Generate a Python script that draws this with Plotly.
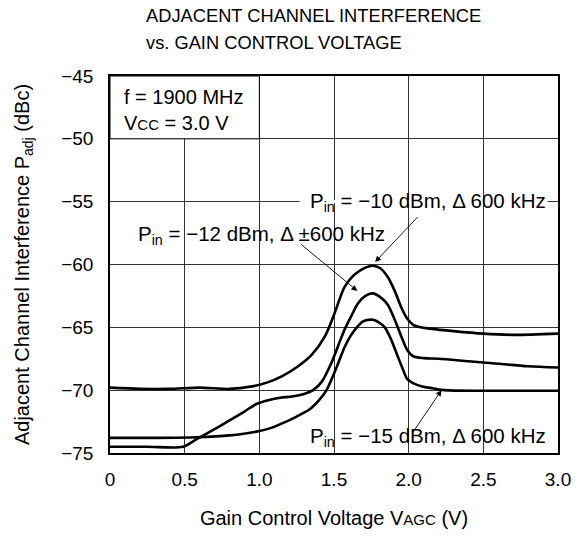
import plotly.graph_objects as go

# ACI vs AGC voltage
v_10 = [0, 0.2, 0.4, 0.6, 0.8, 0.95, 1.05, 1.15, 1.26, 1.35, 1.44, 1.5, 1.57, 1.62, 1.66, 1.71,
        1.76, 1.81, 1.86, 1.91, 1.95, 1.99, 2.03, 2.08, 2.14, 2.3, 2.5, 2.7, 3.0]
aci_10 = [-69.8, -69.9, -69.9, -69.8, -69.9, -69.7, -69.4, -68.9, -68.1, -67.2, -65.7, -64.0, -61.8,
          -61.0, -60.6, -60.25, -60.1, -60.3, -61.0, -62.2, -63.4, -64.3, -64.8, -65.0, -65.1,
          -65.3, -65.5, -65.6, -65.5]

v_12 = [0, 0.25, 0.49, 0.58, 0.7, 0.8, 0.9, 0.98, 1.06, 1.14, 1.22, 1.3, 1.36, 1.42, 1.48, 1.53,
        1.57, 1.62, 1.66, 1.71, 1.76, 1.81, 1.86, 1.91, 1.95, 1.99, 2.03, 2.1, 2.2, 2.4, 2.6, 2.8, 3.0]
aci_12 = [-74.5, -74.5, -74.5, -73.9, -73.1, -72.4, -71.7, -71.1, -70.8, -70.6, -70.5, -70.3,
          -70.0, -69.3, -67.9, -66.4, -65.2, -64.0, -63.1, -62.5, -62.3, -62.6, -63.2, -64.5,
          -65.7, -66.8, -67.3, -67.45, -67.5, -67.7, -67.9, -68.1, -68.2]

v_15 = [0, 0.3, 0.58, 0.8, 0.98, 1.08, 1.16, 1.25, 1.34, 1.4, 1.45, 1.52, 1.57, 1.61, 1.66, 1.70,
        1.76, 1.80, 1.84, 1.88, 1.92, 1.96, 1.99, 2.04, 2.09, 2.16, 2.24, 2.5, 3.0]
aci_15 = [-73.8, -73.8, -73.75, -73.6, -73.3, -73.0, -72.6, -72.1, -71.5, -70.8, -70.0, -68.1,
          -66.6, -65.7, -64.9, -64.5, -64.4, -64.6, -65.0, -65.9, -67.1, -68.3, -69.1, -69.5,
          -69.7, -69.85, -70.0, -70.05, -70.05]

x_ticks = [0, 0.5, 1.0, 1.5, 2.0, 2.5, 3.0]
x_tick_text = ["0", "0.5", "1.0", "1.5", "2.0", "2.5", "3.0"]
y_ticks = [-75, -70, -65, -60, -55, -50, -45]

FONT = "Liberation Sans, Arial, sans-serif"

fig = go.Figure()
for xs, ys in [(v_10, aci_10), (v_12, aci_12), (v_15, aci_15)]:
    fig.add_trace(go.Scatter(x=xs, y=ys, mode="lines", showlegend=False,
                             line=dict(color="black", width=2.6, shape="spline", smoothing=0.8)))

# condition box in the top-left grid cell
fig.add_shape(type="rect", x0=0, x1=1.0, y0=-50, y1=-45, layer="between",
              fillcolor="white", line=dict(color="black", width=1))
# gridline is broken behind the -10 dBm label
fig.add_shape(type="line", x0=1.27, x1=2.93, y0=-55, y1=-55, layer="between",
              line=dict(color="white", width=3))

fig.add_annotation(x=0.08, y=-47.7, xanchor="left", yanchor="middle", align="left", showarrow=False,
                   text="f = 1900 MHz<br>V<span style='font-size:15px'>CC</span> = 3.0 V",
                   font=dict(size=20))
fig.add_annotation(x=2.935, y=-55.0, xanchor="right", yanchor="middle", showarrow=False,
                   text="P<sub>in</sub> = −10 dBm, Δ 600 kHz", font=dict(size=20.5))
fig.add_annotation(x=0.175, y=-57.65, xanchor="left", yanchor="middle", showarrow=False,
                   text="P<sub>in</sub> = −12 dBm, Δ ±600 kHz", font=dict(size=20.5))
fig.add_annotation(x=2.935, y=-73.7, xanchor="right", yanchor="middle", showarrow=False,
                   text="P<sub>in</sub> = −15 dBm, Δ 600 kHz", font=dict(size=20.5))

# pointer arrows
for hx, hy, tx, ty in [(1.775, -59.8, 2.07, -56.1), (1.656, -62.1, 1.27, -58.3), (2.22, -70.0, 2.02, -73.5)]:
    fig.add_annotation(x=hx, y=hy, ax=tx, ay=ty, axref="x", ayref="y", text="", showarrow=True,
                       arrowhead=2, arrowsize=1.3, arrowwidth=0.9, arrowcolor="black")

# two-line chart title, left aligned above the plot
fig.add_annotation(x=0.075, y=1.16, xref="paper", yref="paper", xanchor="left", yanchor="middle",
                   showarrow=False, text="ADJACENT CHANNEL INTERFERENCE", font=dict(size=18.3))
fig.add_annotation(x=0.075, y=1.088, xref="paper", yref="paper", xanchor="left", yanchor="middle",
                   showarrow=False, text="vs. GAIN CONTROL VOLTAGE", font=dict(size=18.3))

# page body adds 8px around the figure, so keep it inside the 580x537 window
fig.update_layout(
    width=564, height=521,
    margin=dict(l=102, r=14, t=68, b=76),
    paper_bgcolor="white", plot_bgcolor="white",
    font=dict(family=FONT, color="black", size=19),
)
fig.update_xaxes(range=[0, 3.0], tickvals=x_ticks, ticktext=x_tick_text, showgrid=True,
                 gridcolor="#333", gridwidth=1, showline=True, linecolor="black", linewidth=1.5,
                 mirror=True, ticks="", ticklabelstandoff=8, zeroline=False, tickfont=dict(size=19),
                 ticklabeloverflow="allow", automargin=False,
                 title=dict(text="Gain Control Voltage V<span style='font-size:15px'>AGC</span> (V)",
                            font=dict(size=20), standoff=26))
fig.update_yaxes(range=[-75, -45], tickvals=y_ticks, showgrid=True,
                 gridcolor="#333", gridwidth=1, showline=True, linecolor="black", linewidth=1.5,
                 mirror=True, ticks="", ticklabelstandoff=11, zeroline=False, tickfont=dict(size=19),
                 automargin=False,
                 title=dict(text="Adjacent Channel Interference P<sub>adj</sub> (dBc)",
                            font=dict(size=20), standoff=26))

fig.write_html("out.html")
